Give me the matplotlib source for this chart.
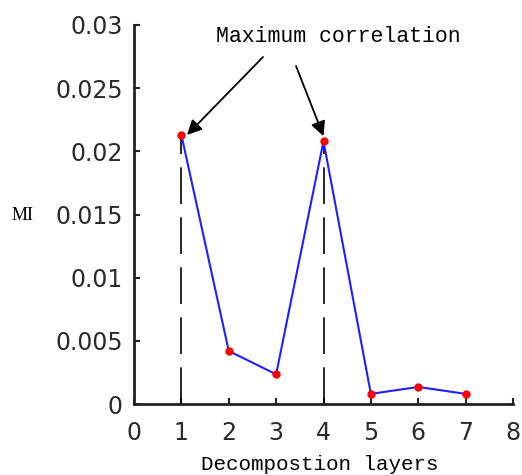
import matplotlib
matplotlib.use("Agg")
import matplotlib.pyplot as plt

# Mutual information of each decomposition layer
layers = [1, 2, 3, 4, 5, 6, 7]
mi_values = [0.0213, 0.0042, 0.00235, 0.0208, 0.0008, 0.00135, 0.0008]
peak_layers = [1, 4]
x_ticks = [0, 1, 2, 3, 4, 5, 6, 7, 8]
y_ticks = [0, 0.005, 0.01, 0.015, 0.02, 0.025, 0.03]
y_tick_labels = ["0", "0.005", "0.01", "0.015", "0.02", "0.025", "0.03"]

fig = plt.figure(figsize=(5.22, 4.75), dpi=100)
ax = fig.add_axes([134 / 522, 71 / 475, 379 / 522, 379 / 475])

# Dashed markers from the axis to each peak
for lx in peak_layers:
    ax.plot([lx, lx], [0, mi_values[layers.index(lx)]], color="black",
            lw=1.2, linestyle=(0, (22, 8)), zorder=2)

ax.plot(layers, mi_values, color="#1f1fff", lw=1.5, zorder=3)
ax.plot(layers, mi_values, linestyle="none", marker="o", markersize=5,
        color="red", zorder=4)

ax.set_xlim(0, 8)
ax.set_ylim(0, 0.03)
ax.set_xticks(x_ticks)
ax.set_xticklabels([str(t) for t in x_ticks])
ax.set_yticks(y_ticks)
ax.set_yticklabels(y_tick_labels)
for lab in ax.get_xticklabels() + ax.get_yticklabels():
    lab.set_family("DejaVu Sans")
    lab.set_fontsize(17)
    lab.set_color("#2a2a2a")

ax.tick_params(direction="in", length=4, width=1.5, pad=8, color="#222222")
ax.tick_params(axis="x", pad=12)
for side in ("top", "right"):
    ax.spines[side].set_visible(False)
for side in ("left", "bottom"):
    ax.spines[side].set_linewidth(2)
    ax.spines[side].set_color("#222222")

fig.text(320 / 522, 1 - 464 / 475, "Decompostion layers",
         family="Liberation Mono", fontsize=15, ha="center", va="center")
fig.text(12 / 522, 1 - 216 / 475, "MI", family="Liberation Serif",
         fontsize=13, va="center", ha="left")

# Annotation pointing at both maxima
fig.text(338 / 522, 1 - 37 / 475, "Maximum correlation",
         family="Liberation Mono", fontsize=15.5, ha="center", va="center")
arrow = dict(arrowstyle="-|>", color="black", lw=1.3, mutation_scale=22,
             shrinkA=0, shrinkB=0)
ax.annotate("", xy=(1.12, mi_values[0]), xytext=(263, 475 - 57),
            textcoords="figure pixels", arrowprops=arrow)
ax.annotate("", xy=(4.0, mi_values[3] + 0.0004), xytext=(296, 475 - 66),
            textcoords="figure pixels", arrowprops=arrow)

fig.savefig("out.png", dpi=100)
